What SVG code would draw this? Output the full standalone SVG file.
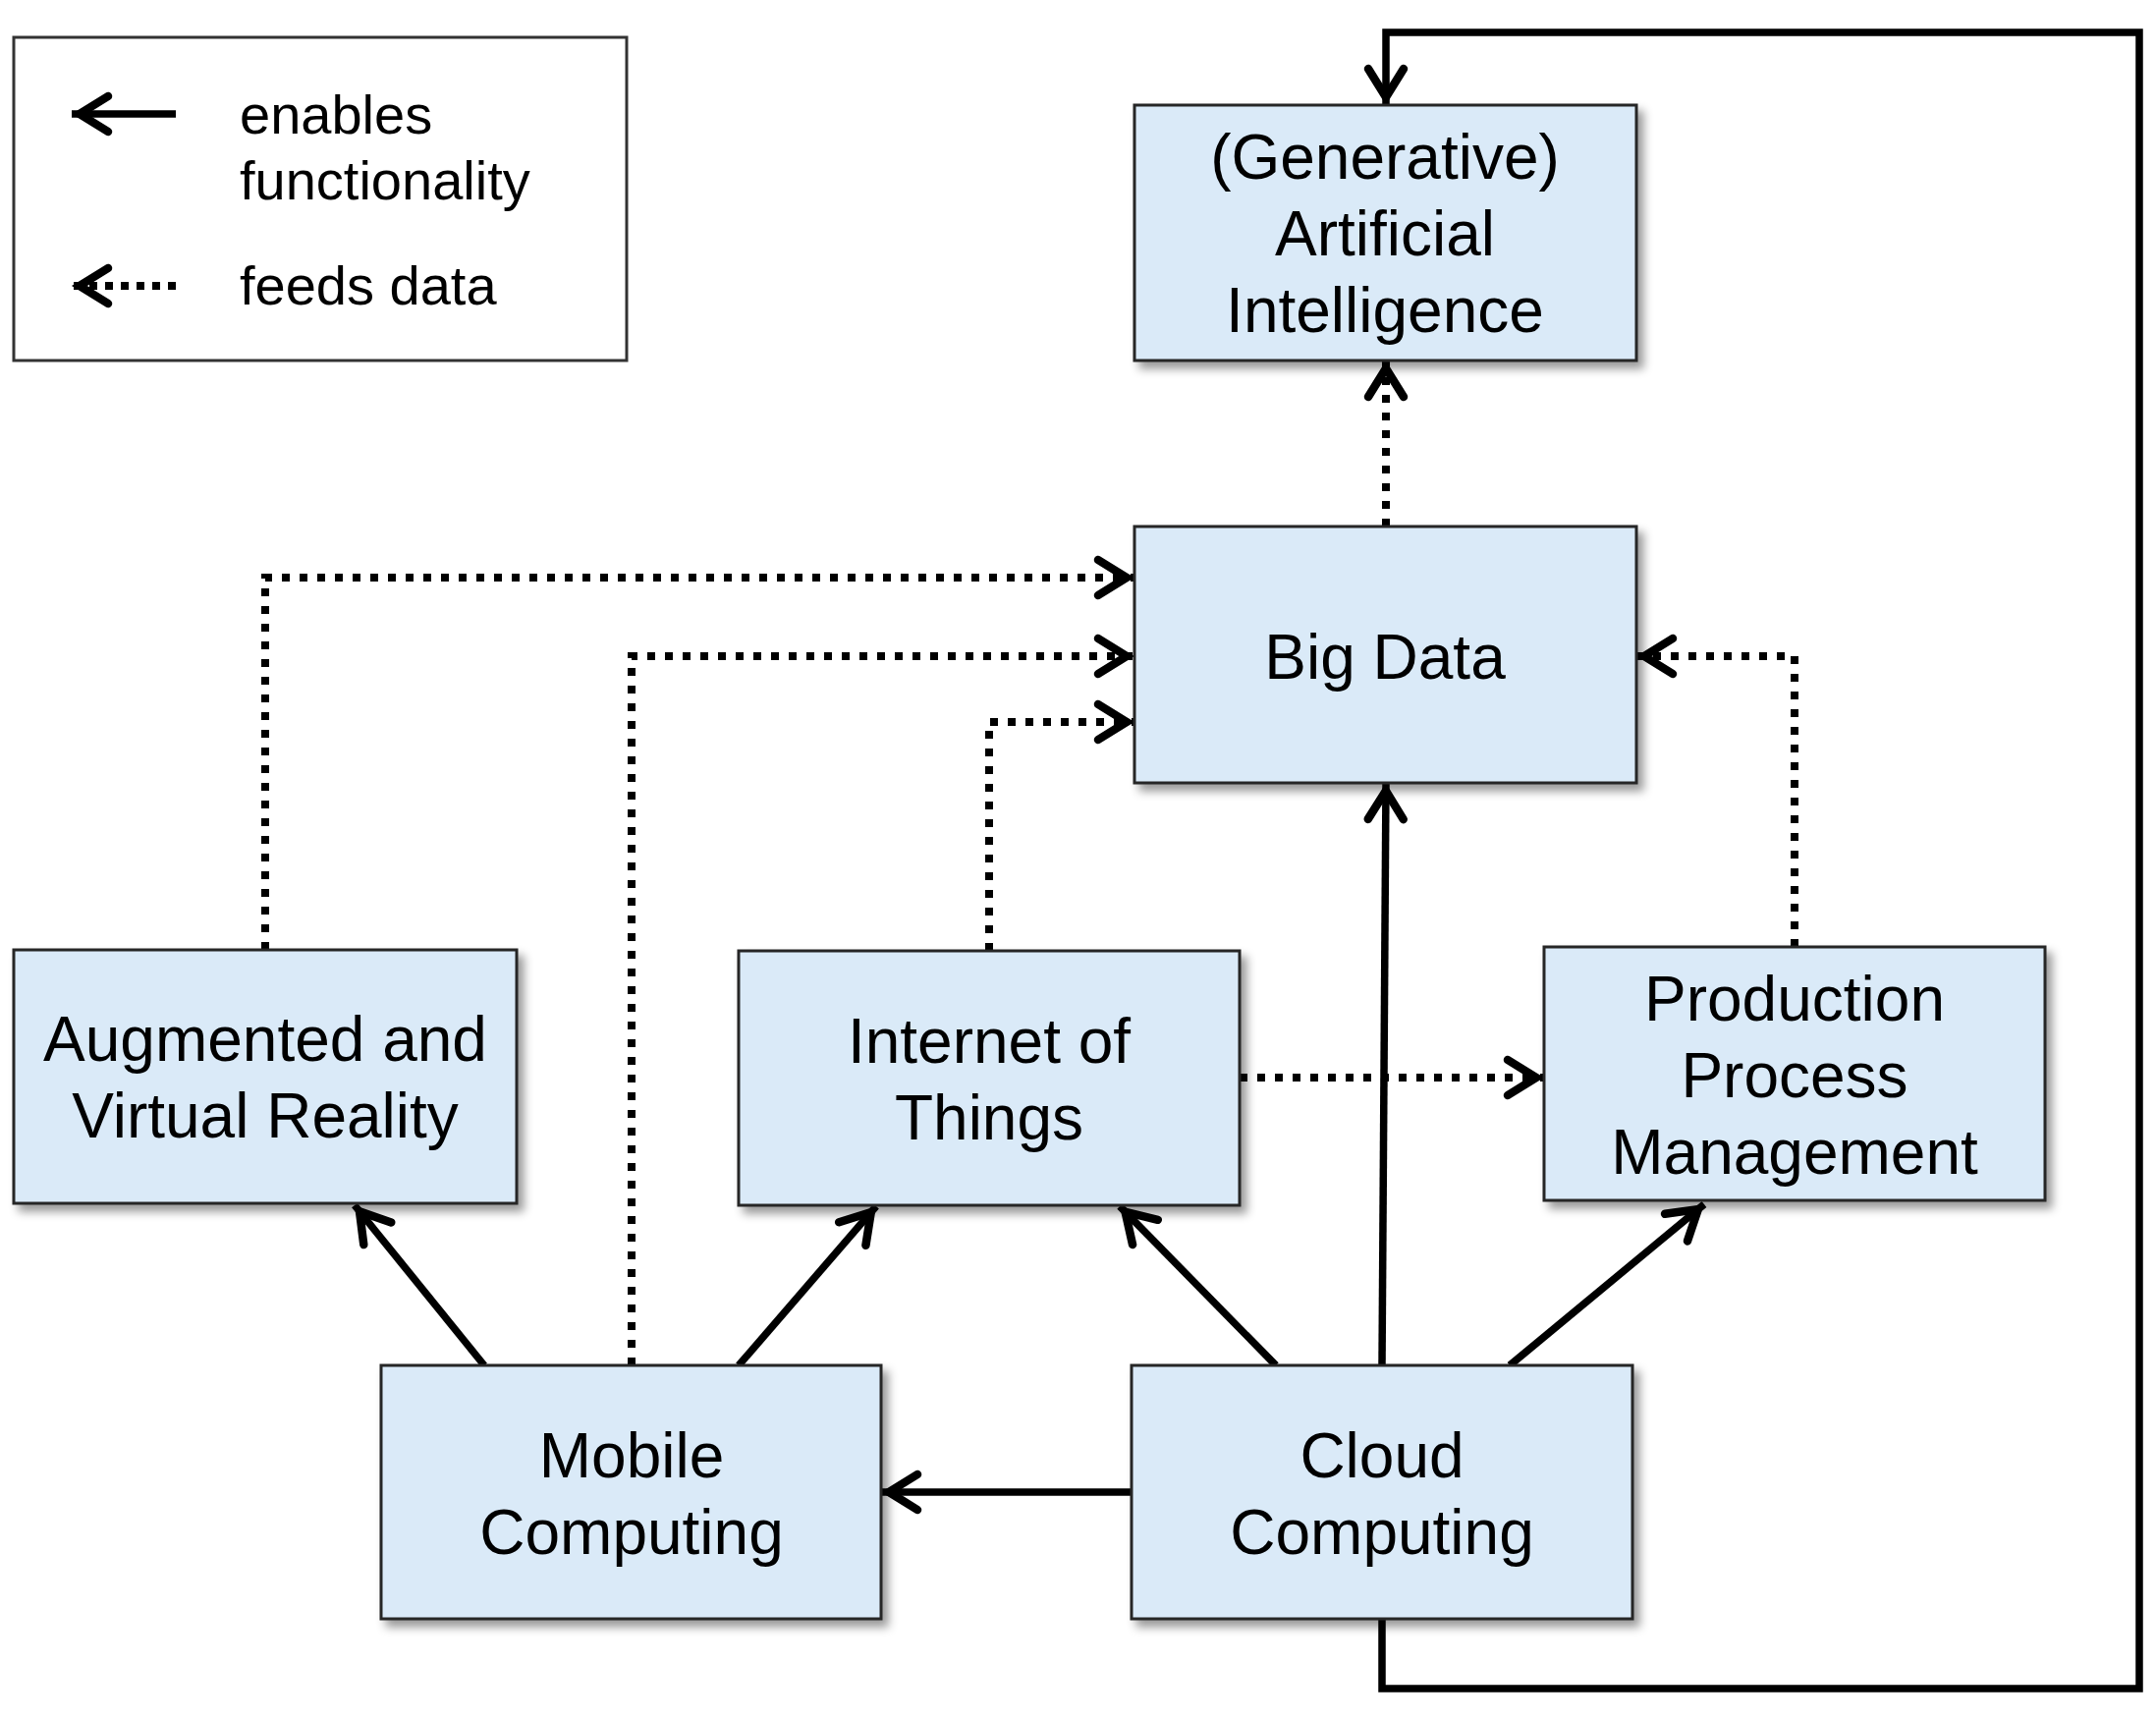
<svg xmlns="http://www.w3.org/2000/svg" width="2195" height="1751" viewBox="0 0 2195 1751">
<defs>
<style>
.box{fill:#daeaf8;stroke:#262626;stroke-width:3;filter:url(#sh)}
.lg{fill:#fff;stroke:#333;stroke-width:3}
.t{font-family:"Liberation Sans",Arial,sans-serif;font-size:64px;fill:#000;text-anchor:middle}
.lt{font-family:"Liberation Sans",Arial,sans-serif;font-size:56px;fill:#000}
.s{fill:none;stroke:#000;stroke-width:7.5;marker-end:url(#ah)}
.d{fill:none;stroke:#000;stroke-width:8;stroke-dasharray:8 10;marker-end:url(#ah)}
</style>
<filter id="sh" x="-10%" y="-10%" width="125%" height="130%">
<feDropShadow dx="6" dy="7" stdDeviation="5" flood-color="#000" flood-opacity="0.4"/>
</filter>
<marker id="ah" markerUnits="userSpaceOnUse" viewBox="-45 -25 50 50" refX="0" refY="0" markerWidth="50" markerHeight="50" orient="auto" overflow="visible">
<path d="M-37,-18 L-8,0 L-37,18" fill="none" stroke="#000" stroke-width="8.5" stroke-linecap="round" stroke-linejoin="miter"/>
</marker>
</defs>
<rect width="2195" height="1751" fill="#fff"/>

<g id="legend">
<rect class="lg" x="14" y="38" width="624" height="329"/>
<line x1="179" y1="116" x2="73" y2="116" class="s"/>
<line x1="179" y1="291" x2="73" y2="291" class="d" style="stroke-dasharray:8 8"/>
<text class="lt" x="244" y="136">enables</text>
<text class="lt" x="244" y="203">functionality</text>
<text class="lt" x="244" y="310">feeds data</text>
</g>

<g id="connectors">
<path class="s" d="M1407,1648 V1719 H2178 V33 H1411 V107"/>
<path class="d" d="M1411,536 V367"/>
<path class="d" d="M270,967 V588 H1155"/>
<path class="d" d="M643,1390 V668 H1155"/>
<path class="d" d="M1007,968 V735 H1155"/>
<path class="d" d="M1827,964 V668 H1666"/>
<path class="d" d="M1262,1097 H1572"/>
<path class="s" d="M1407,1390 L1411,797"/>
<path class="s" d="M1152,1519 H897"/>
<path class="s" d="M493,1390 L361,1227"/>
<path class="s" d="M752,1390 L892,1228"/>
<path class="s" d="M1299,1390 L1140,1228"/>
<path class="s" d="M1537,1390 L1735,1226"/>
</g>

<g id="ai">
<rect class="box" x="1155" y="107" width="511" height="260"/>
<text class="t" x="1410" y="182">(Generative)</text>
<text class="t" x="1410" y="260">Artificial</text>
<text class="t" x="1410" y="338">Intelligence</text>
</g>
<g id="bigdata">
<rect class="box" x="1155" y="536" width="511" height="261"/>
<text class="t" x="1410" y="691">Big Data</text>
</g>
<g id="arvr">
<rect class="box" x="14" y="967" width="512" height="258"/>
<text class="t" x="270" y="1080">Augmented and</text>
<text class="t" x="270" y="1158">Virtual Reality</text>
</g>
<g id="iot">
<rect class="box" x="752" y="968" width="510" height="259"/>
<text class="t" x="1007" y="1082">Internet of</text>
<text class="t" x="1007" y="1160">Things</text>
</g>
<g id="ppm">
<rect class="box" x="1572" y="964" width="510" height="258"/>
<text class="t" x="1827" y="1039">Production</text>
<text class="t" x="1827" y="1117">Process</text>
<text class="t" x="1827" y="1195">Management</text>
</g>
<g id="mobile">
<rect class="box" x="388" y="1390" width="509" height="258"/>
<text class="t" x="643" y="1504">Mobile</text>
<text class="t" x="643" y="1582">Computing</text>
</g>
<g id="cloud">
<rect class="box" x="1152" y="1390" width="510" height="258"/>
<text class="t" x="1407" y="1504">Cloud</text>
<text class="t" x="1407" y="1582">Computing</text>
</g>
</svg>
